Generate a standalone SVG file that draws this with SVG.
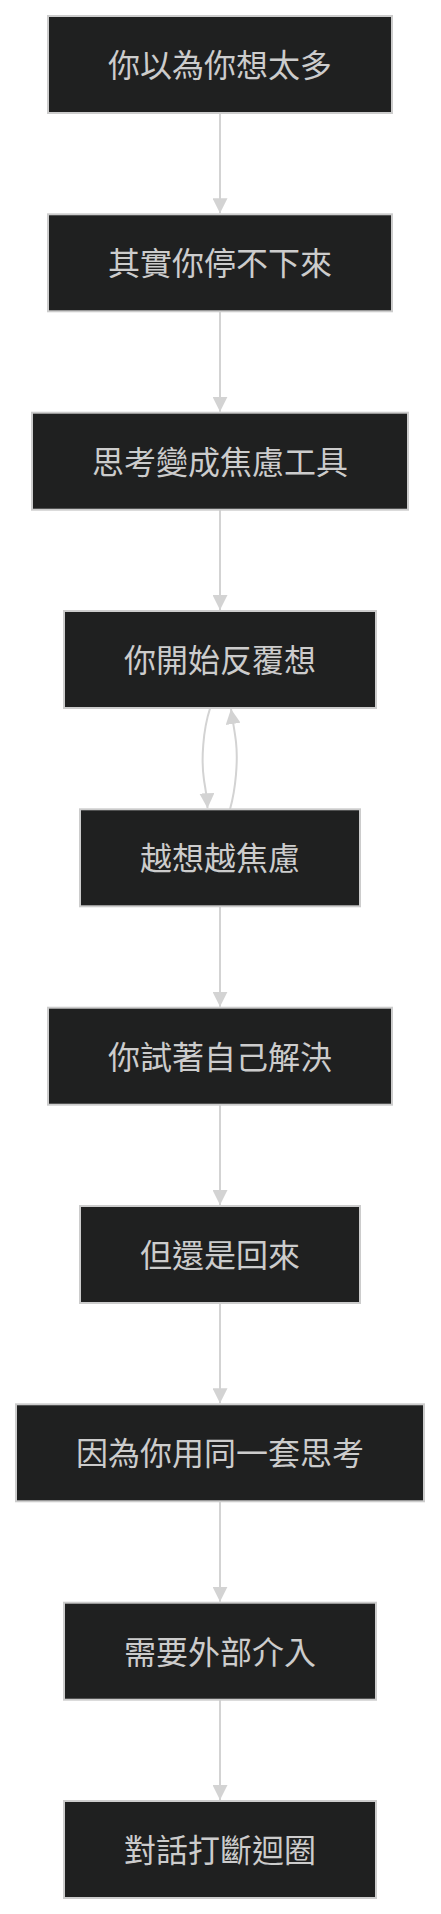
<svg xmlns="http://www.w3.org/2000/svg" width="441" height="1914" viewBox="0 0 441 1914">
<style>
.node rect{fill:#1f2020;stroke:#cccccc;stroke-width:2}
.node text{fill:#cccccc;font-family:"Noto Sans CJK TC","Noto Sans CJK SC",sans-serif;font-size:32px;text-anchor:middle}
.edge{fill:none;stroke:#d3d3d3;stroke-width:2}
</style>
<defs>
<marker id="arrow" viewBox="0 0 10 10" refX="10" refY="5" markerUnits="userSpaceOnUse" markerWidth="15" markerHeight="15" orient="auto" preserveAspectRatio="none">
<path d="M0,0 L10,5 L0,10 z" fill="#d3d3d3"/>
</marker>
</defs>
<rect width="441" height="1914" fill="#ffffff"/>
<g id="connectors">
<path class="edge" d="M220,113 L220,213.3" marker-end="url(#arrow)"/>
<path class="edge" d="M220,311.3 L220,411.7" marker-end="url(#arrow)"/>
<path class="edge" d="M220,509.7 L220,610" marker-end="url(#arrow)"/>
<path class="edge" d="M210,708.5 C203,730 201,760 204,780 C205.5,790 207,796 207.5,808.3" marker-end="url(#arrow)"/>
<path class="edge" d="M230,809.3 C236,788 238,760 236,742 C235,733 233,723 231,709" marker-end="url(#arrow)"/>
<path class="edge" d="M220,906.3 L220,1006.7" marker-end="url(#arrow)"/>
<path class="edge" d="M220,1104.7 L220,1205" marker-end="url(#arrow)"/>
<path class="edge" d="M220,1303 L220,1403.3" marker-end="url(#arrow)"/>
<path class="edge" d="M220,1501.3 L220,1601.7" marker-end="url(#arrow)"/>
<path class="edge" d="M220,1699.7 L220,1800" marker-end="url(#arrow)"/>
</g>
<g id="n1" class="node"><rect x="48" y="16" width="344" height="97"/><text x="220" y="77">你以為你想太多</text></g>
<g id="n2" class="node"><rect x="48" y="214.3" width="344" height="97"/><text x="220" y="275.3">其實你停不下來</text></g>
<g id="n3" class="node"><rect x="32" y="412.7" width="376" height="97"/><text x="220" y="473.7">思考變成焦慮工具</text></g>
<g id="n4" class="node"><rect x="64" y="611" width="312" height="97"/><text x="220" y="672">你開始反覆想</text></g>
<g id="n5" class="node"><rect x="80" y="809.3" width="280" height="97"/><text x="220" y="870.3">越想越焦慮</text></g>
<g id="n6" class="node"><rect x="48" y="1007.7" width="344" height="97"/><text x="220" y="1068.7">你試著自己解決</text></g>
<g id="n7" class="node"><rect x="80" y="1206" width="280" height="97"/><text x="220" y="1267">但還是回來</text></g>
<g id="n8" class="node"><rect x="16" y="1404.3" width="408" height="97"/><text x="220" y="1465.3">因為你用同一套思考</text></g>
<g id="n9" class="node"><rect x="64" y="1602.7" width="312" height="97"/><text x="220" y="1663.7">需要外部介入</text></g>
<g id="n10" class="node"><rect x="64" y="1801" width="312" height="97"/><text x="220" y="1862">對話打斷迴圈</text></g>
</svg>
